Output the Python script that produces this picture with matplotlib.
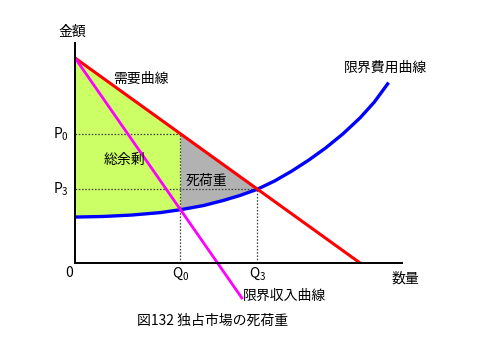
import numpy as np
import matplotlib.pyplot as plt

plt.rcParams['font.family'] = ['Noto Sans CJK JP', 'DejaVu Sans']
plt.rcParams['mathtext.default'] = 'regular'

# demand and marginal revenue (straight lines, end points)
demand_q = [0, 10]
demand_p = [10, 0]
mr_q = [0, 5.88]
mr_p = [10, -1.76]

# marginal cost curve
mc_q = [0, 1, 2, 3, 3.7, 4.5, 5.2, 5.8, 6.4, 7, 7.6, 8.2, 8.8, 9.4, 10, 10.5, 11]
mc_p = [2.24, 2.27, 2.34, 2.46, 2.6, 2.8, 3.05, 3.3, 3.6, 4.0, 4.48, 5.02, 5.62, 6.3, 7.08, 7.85, 8.8]

Q0, P0 = 3.7, 6.3
Q3, P3 = 6.4, 3.6

fig = plt.figure(figsize=(4.8, 3.41), dpi=100)
ax = fig.add_axes([75/480, 78/341, 327/480, 220/341])

mq = np.array(mc_q)
mp = np.array(mc_p)
dp = np.interp(mq, demand_q, demand_p)
ax.fill_between(mq, mp, dp, where=mq <= Q0, color='#ccff66', lw=0)
ax.fill_between(mq, mp, dp, where=(mq >= Q0) & (mq <= Q3), color='#b2b2b2', lw=0)

dot = dict(color='#444444', lw=0.9, ls=(0, (1.3, 1.3)))
ax.plot([0, Q0], [P0, P0], **dot)
ax.plot([0, Q3], [P3, P3], **dot)
ax.plot([Q0, Q0], [0, P0], **dot)
ax.plot([Q3, Q3], [0, P3], **dot)

ax.plot(mc_q, mc_p, color='#0000ff', lw=2.4, solid_capstyle='butt')
ax.plot(demand_q, demand_p, color='#ff0000', lw=2.2, solid_capstyle='butt')
ax.plot(mr_q, mr_p, color='#ff00ff', lw=2.0, clip_on=False, solid_capstyle='butt')

ax.set_xlim(0, 11.47)
ax.set_ylim(0, 10.73)
ax.set_xticks([])
ax.set_yticks([])
for s in ['top', 'right']:
    ax.spines[s].set_visible(False)
for s in ['left', 'bottom']:
    ax.spines[s].set_linewidth(1.4)

fs = 10
ax.text(-0.1, 11.3, '金額', fontsize=fs, ha='center', va='center')
ax.text(11.6, -0.75, '数量', fontsize=fs, ha='center', va='center', clip_on=False)
ax.text(-0.2, -0.5, '0', fontsize=fs, ha='center', va='center')
ax.text(Q0, -0.5, 'Q$_0$', fontsize=fs, ha='center', va='center')
ax.text(Q3, -0.5, 'Q$_3$', fontsize=fs, ha='center', va='center')
ax.text(-0.2, P0, 'P$_0$', fontsize=fs, ha='right', va='center')
ax.text(-0.2, P3, 'P$_3$', fontsize=fs, ha='right', va='center')
ax.text(2.3, 9.0, '需要曲線', fontsize=fs, ha='center', va='center')
ax.text(10.9, 9.5, '限界費用曲線', fontsize=fs, ha='center', va='center')
ax.text(1.75, 5.0, '総余剰', fontsize=fs, ha='center', va='center')
ax.text(4.6, 4.0, '死荷重', fontsize=fs, ha='center', va='center')
ax.text(5.9, -1.6, '限界収入曲線', fontsize=fs, ha='left', va='center')
fig.text(213/480, 1 - 321/341, '図132 独占市場の死荷重', fontsize=fs, ha='center', va='center')

fig.savefig('out.png', dpi=100)
